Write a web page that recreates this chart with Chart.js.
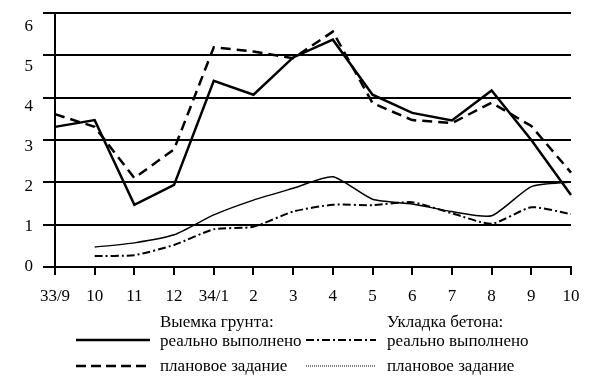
<!DOCTYPE html>
<html>
<head>
<meta charset="utf-8">
<script src="https://cdn.jsdelivr.net/npm/chart.js@4.4.0/dist/chart.umd.min.js"></script>
<style>
  html, body { margin: 0; padding: 0; background: #fff; }
  #wrap { position: relative; width: 600px; height: 387px; }
  #c { position: absolute; left: 0; top: 0; }
  .lg { position: absolute; font-family: "Liberation Serif", "DejaVu Serif", serif; font-size: 17px; color: #000; white-space: nowrap; line-height: 1; }
  svg.s { position: absolute; }
</style>
</head>
<body>
<div id="wrap">
  <canvas id="c" width="600" height="387"></canvas>
  <div class="lg" style="left:160px; top:313px;">Выемка грунта:</div>
  <div class="lg" style="left:160px; top:332px;">реально выполнено</div>
  <div class="lg" style="left:160px; top:357px;">плановое задание</div>
  <div class="lg" style="left:387px; top:313px;">Укладка бетона:</div>
  <div class="lg" style="left:387px; top:332px;">реально выполнено</div>
  <div class="lg" style="left:387px; top:357px;">плановое задание</div>
  <svg class="s" style="left:75px; top:335px;" width="76" height="10"><line x1="1" y1="5" x2="75" y2="5" stroke="#000" stroke-width="2.5"/></svg>
  <svg class="s" style="left:75px; top:361px;" width="76" height="10"><line x1="1" y1="5" x2="75" y2="5" stroke="#000" stroke-width="2.5" stroke-dasharray="10,5"/></svg>
  <svg class="s" style="left:305px; top:335px;" width="72" height="10"><line x1="1" y1="5" x2="71" y2="5" stroke="#000" stroke-width="2" stroke-dasharray="8,3,2,3"/></svg>
  <svg class="s" style="left:305px; top:361px;" width="72" height="10"><line x1="1" y1="5" x2="71" y2="5" stroke="#000" stroke-width="1" stroke-dasharray="1,1"/></svg>
</div>
<script>
const categories = ["33/9","10","11","12","34/1","2","3","4","5","6","7","8","9","10"];
const groundActual = [3.31, 3.47, 1.47, 1.94, 4.40, 4.07, 4.95, 5.37, 4.07, 3.64, 3.46, 4.17, 3.00, 1.70];
const groundPlan   = [3.61, 3.31, 2.10, 2.78, 5.19, 5.09, 4.93, 5.56, 3.87, 3.47, 3.40, 3.88, 3.33, 2.23];
const concretePlan   = [null, 0.47, 0.57, 0.76, 1.23, 1.58, 1.86, 2.13, 1.60, 1.49, 1.31, 1.21, 1.90, 2.01];
const concreteActual = [null, 0.26, 0.28, 0.52, 0.89, 0.95, 1.31, 1.47, 1.46, 1.53, 1.27, 1.02, 1.41, 1.25];
const yTicks = [0, 1, 2, 3, 4, 5, 6];

const font = { family: '"Liberation Serif", "DejaVu Serif", serif', size: 17 };

new Chart(document.getElementById('c'), {
  type: 'line',
  data: {
    labels: categories,
    datasets: [
      { label: 'Выемка грунта: реально выполнено', data: groundActual, borderColor: '#000', borderWidth: 2.5, pointRadius: 0, tension: 0 },
      { label: 'Выемка грунта: плановое задание', data: groundPlan, borderColor: '#000', borderWidth: 2.5, borderDash: [10, 6], pointRadius: 0, tension: 0 },
      { label: 'Укладка бетона: плановое задание', data: concretePlan, borderColor: '#000', borderWidth: 1.5, pointRadius: 0, tension: 0.2 },
      { label: 'Укладка бетона: реально выполнено', data: concreteActual, borderColor: '#000', borderWidth: 2, borderDash: [8, 3, 2, 3], pointRadius: 0, tension: 0.2 }
    ]
  },
  options: {
    responsive: false,
    animation: false,
    layout: { padding: { top: 13, right: 29, left: 0, bottom: 0 } },
    plugins: { legend: { display: false }, tooltip: { enabled: false } },
    scales: {
      x: {
        type: 'category',
        offset: false,
        afterFit: s => { s.height = 120; },
        grid: { drawOnChartArea: false, drawTicks: true, tickLength: 8, color: '#000', lineWidth: 2 },
        border: { display: true, color: '#000', width: 2 },
        ticks: { color: '#000', font: font, padding: 11, maxRotation: 0, autoSkip: false }
      },
      y: {
        min: 0, max: 6,
        position: 'left',
        weight: 0,
        afterFit: s => { s.width = 22; },
        afterBuildTicks: s => { s.ticks = yTicks.map(v => ({ value: v })); },
        grid: { color: '#000', lineWidth: 2, tickLength: 12, drawTicks: true },
        border: { display: true, color: '#000', width: 2 },
        ticks: { display: false }
      },
      yLab: {
        min: 0, max: 6.35,
        position: 'left',
        weight: 1,
        afterFit: s => { s.width = 33; },
        afterBuildTicks: s => { s.ticks = yTicks.map(v => ({ value: v })); },
        grid: { display: false, drawTicks: false },
        border: { display: false },
        ticks: { color: '#000', font: font, padding: 0 }
      }
    }
  }
});
</script>
</body>
</html>
